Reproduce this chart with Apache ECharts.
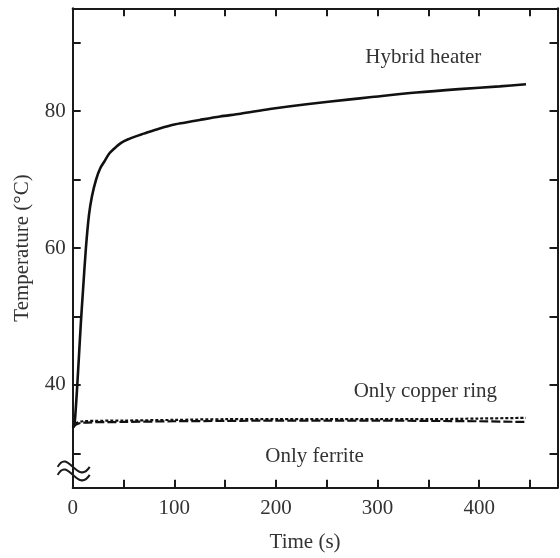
<!DOCTYPE html>
<html>
<head>
<meta charset="utf-8">
<script src="https://cdn.jsdelivr.net/npm/echarts@6/dist/echarts.min.js"></script>
<style>
  html, body { margin: 0; padding: 0; background: #fff; }
  #chart { width: 560px; height: 558px; }
</style>
</head>
<body>
<div id="chart"></div>
<script>
// Heating curves: temperature vs. time for three heater configurations
const hybridTime = [0, 1.5, 3, 4.5, 6, 8, 10, 13, 16, 19, 23, 27, 31, 36, 43, 48, 55, 62, 70, 80, 96, 110, 125, 145, 165, 194, 230, 273, 292, 338, 380, 420, 446];
const hybridTemp = [33.8, 34.0, 36.5, 40, 43.8, 49, 53.5, 60, 64.8, 67.6, 70, 71.6, 72.6, 73.8, 74.8, 75.4, 75.9, 76.3, 76.7, 77.2, 77.9, 78.3, 78.7, 79.2, 79.6, 80.3, 81.0, 81.7, 82.0, 82.7, 83.2, 83.6, 83.9];

const copperTime = [0, 3, 10, 50, 100, 150, 200, 250, 300, 350, 400, 446];
const copperTemp = [33.8, 34.4, 34.7, 34.8, 34.9, 35.0, 35.0, 35.0, 35.0, 35.0, 35.1, 35.2];

const ferriteTime = [0, 3, 10, 50, 100, 150, 200, 250, 300, 350, 400, 446];
const ferriteTemp = [33.8, 34.2, 34.5, 34.6, 34.7, 34.75, 34.8, 34.8, 34.8, 34.75, 34.7, 34.6];

const xTicks = [50, 100, 150, 200, 250, 300, 350, 400, 450];
const xLabels = [0, 100, 200, 300, 400];
const yTicks = [30, 40, 50, 60, 70, 80, 90];
const yLabels = [40, 60, 80];

const seriesNames = ['Hybrid heater', 'Only copper ring', 'Only ferrite'];
// annotation anchors in data coordinates [time, temperature]
const labelAnchors = [[345, 87.8], [347, 39.0], [238, 29.5]];

const pairs = (xs, ys) => xs.map((x, i) => [x, ys[i]]);

const FONT = '"Liberation Serif", "Times New Roman", serif';
const INK = '#1a1a1a';
const TEXT = '#333';

const xRange = { min: 0, max: 477 };
const yRange = { min: 25, max: 95 };

const chart = echarts.init(document.getElementById('chart'), null, { renderer: 'canvas' });

const axisLine = { show: true, onZero: false, lineStyle: { color: INK, width: 2 } };

const option = {
  animation: false,
  backgroundColor: '#fff',
  grid: { left: 72.7, right: 2.5, top: 8.3, bottom: 70.3, containLabel: false },
  xAxis: [
    {
      type: 'value', position: 'bottom', ...xRange,
      axisLine,
      axisTick: { show: true, inside: true, length: 8, customValues: xTicks, lineStyle: { color: INK, width: 2 } },
      axisLabel: { customValues: xLabels, margin: 10, fontFamily: FONT, fontSize: 21, color: TEXT },
      splitLine: { show: false },
      name: 'Time (s)', nameLocation: 'middle', nameGap: 44,
      nameTextStyle: { fontFamily: FONT, fontSize: 21, color: TEXT, padding: [0, 20, 0, 0] }
    },
    {
      type: 'value', position: 'top', ...xRange,
      axisLine,
      axisTick: { show: true, inside: true, length: 8, customValues: xTicks, lineStyle: { color: INK, width: 2 } },
      axisLabel: { show: false },
      splitLine: { show: false }
    }
  ],
  yAxis: [
    {
      type: 'value', position: 'left', ...yRange,
      axisLine,
      axisTick: { show: true, inside: true, length: 8, customValues: yTicks, lineStyle: { color: INK, width: 2 } },
      axisLabel: { customValues: yLabels, margin: 7, fontFamily: FONT, fontSize: 21, color: TEXT },
      splitLine: { show: false },
      name: 'Temperature (°C)', nameLocation: 'middle', nameGap: 40, nameRotate: 90,
      nameTextStyle: { fontFamily: FONT, fontSize: 21, color: TEXT }
    },
    {
      type: 'value', position: 'right', ...yRange,
      axisLine,
      axisTick: { show: true, inside: true, length: 8, customValues: yTicks, lineStyle: { color: INK, width: 2 } },
      axisLabel: { show: false },
      splitLine: { show: false }
    }
  ],
  series: [
    {
      name: seriesNames[0], type: 'line', xAxisIndex: 0, yAxisIndex: 0,
      data: pairs(hybridTime, hybridTemp), showSymbol: false, smooth: 0.3,
      lineStyle: { color: '#111', width: 2.6 }, z: 5
    },
    {
      name: seriesNames[1], type: 'line', xAxisIndex: 0, yAxisIndex: 0,
      data: pairs(copperTime, copperTemp), showSymbol: false, smooth: 0.3,
      lineStyle: { color: '#111', width: 2.2, type: [3, 2] }
    },
    {
      name: seriesNames[2], type: 'line', xAxisIndex: 0, yAxisIndex: 0,
      data: pairs(ferriteTime, ferriteTemp), showSymbol: false, smooth: 0.3,
      lineStyle: { color: '#111', width: 2.2, type: [9, 3] }
    }
  ]
};

chart.setOption(option);

// Series annotations and the axis-break mark, placed through the axis scales
const toPx = (pt) => chart.convertToPixel({ xAxisIndex: 0, yAxisIndex: 0 }, pt);

const annotations = seriesNames.map((name, i) => {
  const p = toPx(labelAnchors[i]);
  return {
    type: 'text', x: p[0], y: p[1], z: 10,
    style: { text: name, fill: TEXT, font: '21px ' + FONT, align: 'center', verticalAlign: 'middle' }
  };
});

const brk = toPx([0, 27.6]);
const wave = (dy) => ({
  type: 'bezierCurve', z: 10,
  shape: {
    x1: brk[0] - 15, y1: brk[1] - 3 + dy,
    x2: brk[0] + 17, y2: brk[1] - 3 + dy,
    cpx1: brk[0] - 5, cpy1: brk[1] - 22 + dy,
    cpx2: brk[0] + 5, cpy2: brk[1] + 16 + dy
  },
  style: { stroke: INK, lineWidth: 2, fill: null }
});

chart.setOption({ graphic: [...annotations, wave(0), wave(8)] });
</script>
</body>
</html>
